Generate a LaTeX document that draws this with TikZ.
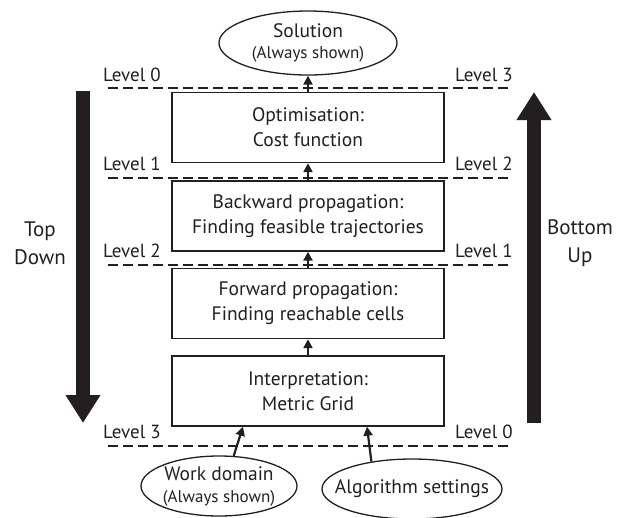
\documentclass[tikz,border=0pt]{standalone}
\usepackage{fontspec}
\setmainfont{PT Sans}
\usetikzlibrary{arrows.meta,shapes.geometric}
\definecolor{ink}{HTML}{231F20}
\newcommand\notefont{\fontsize{17}{20}\selectfont}
\begin{document}
\begin{tikzpicture}[x=1pt,y=-1pt,
  every node/.style={text=ink, font=\fontsize{19.5}{25}\selectfont},
  stage/.style={draw=ink, line width=1.4pt, minimum width=272pt, minimum height=70pt,
    align=center, inner sep=0pt},
  % the size of an oval is set by its minimum width/height alone
  oval/.style={ellipse, draw=ink, line width=1.3pt, align=center, inner sep=-40pt},
  levelline/.style={draw=ink, line width=1.3pt, dash pattern=on 10pt off 5pt},
  lvl/.style={inner sep=0pt, font=\fontsize{19}{20}\selectfont},
  link/.style={draw=ink, line width=2.2pt, -{Triangle[width=9pt,length=9pt]}},
  bigarrow/.style={draw=ink, line width=14pt, -{Triangle[width=33pt,length=28pt]}},
  side/.style={align=center, inner sep=0pt, font=\fontsize{21}{28}\selectfont}
]
\useasboundingbox (0,0) rectangle (624,517);

% processing stages
\node[stage] (opt)    at (308,127.5) {Optimisation:\\Cost function};
\node[stage] (back)   at (308,216)   {Backward propagation:\\Finding feasible trajectories};
\node[stage] (fwd)    at (308,303.5) {Forward propagation:\\Finding reachable cells};
\node[stage] (interp) at (308,391)   {Interpretation:\\Metric Grid};

% inputs and output
\node[oval, minimum width=178pt, minimum height=64pt] (sol) at (308,43)
  {Solution\\[-4pt]{\notefont (Always shown)}};
\node[oval, minimum width=156pt, minimum height=60pt] (wd) at (219,486)
  {Work domain\\[-3pt]{\notefont (Always shown)}};
\node[oval, minimum width=180pt, minimum height=60pt] (alg) at (412,489)
  {Algorithm settings};

% level separators
\foreach \y in {88,178,265,446}
  \draw[levelline] (108,\y) -- (508,\y);

\node[lvl] (l0) at (132,75)  {Level 0};
\node[lvl] (l1) at (132,164) {Level 1};
\node[lvl] (l2) at (132,251) {Level 2};
\node[lvl] (l3) at (132,432) {Level 3};
\node[lvl] (r3) at (484,75)  {Level 3};
\node[lvl] (r2) at (484,164) {Level 2};
\node[lvl] (r1) at (484,251) {Level 1};
\node[lvl] (r0) at (484,432) {Level 0};

% data flow
\draw[link] (interp.north) -- (fwd.south);
\draw[link] (fwd.north) -- (back.south);
\draw[link] (back.north) -- (opt.south);
\draw[link] (opt.north) -- (sol.south);
\coordinate (wdin)  at ([xshift=-65pt]interp.south);
\coordinate (algin) at ([xshift=59pt]interp.south);
\draw[link] (wd.64) -- (wdin);
\draw[link] (alg.146) -- (algin);

% reading directions
\coordinate (tdtop) at (83,91);
\coordinate (tdbot) at (83,423);
\coordinate (bubot) at (534,423);
\coordinate (butop) at (534,92);
\draw[bigarrow] (tdtop) -- (tdbot);
\draw[bigarrow] (bubot) -- (butop);
\node[side] (td) at (40,243)  {Top\\Down};
\node[side] (bu) at (580,243) {Bottom\\Up};
\end{tikzpicture}
\end{document}
